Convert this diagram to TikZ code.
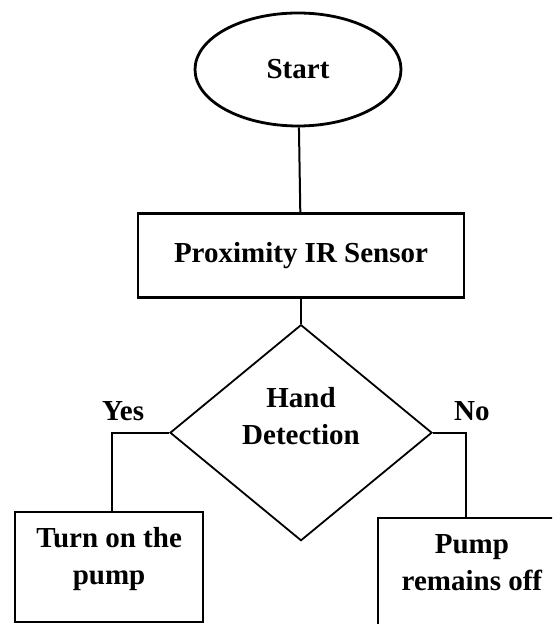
\documentclass[tikz,border=0pt]{standalone}
\usepackage{fontspec}
\setmainfont{Liberation Serif}
\usepackage{tikz}
\usetikzlibrary{shapes.geometric, positioning}
\tikzstyle{startstop} = [ellipse, minimum width=103pt, minimum height=56.5pt, text centered, draw=black, line width=1.4pt, inner sep=0pt]
\tikzstyle{process} = [rectangle, minimum width=163pt, minimum height=42pt, text centered, draw=black, line width=1.2pt]
\tikzstyle{decision} = [diamond, minimum width=131pt, minimum height=108pt, inner sep=0pt, text centered, draw=black, line width=0.9pt]
\tikzstyle{outcome} = [rectangle, minimum width=94pt, minimum height=55pt, text centered, draw=black, line width=1.2pt]
\tikzstyle{answer} = [inner sep=0pt]
\tikzstyle{line} = [line width=1pt]
% two lines of text, lifted inside their shape
\newcommand{\liftlines}[2]{\raisebox{#1}[\height][\depth]{\begin{tabular}{@{}c@{}}#2\end{tabular}}}

\begin{document}
\begin{tikzpicture}[node distance=12.5pt, font=\fontsize{14.5}{18.5}\selectfont\bfseries]
    \useasboundingbox (0,0) rectangle (276pt,-312pt);
    \clip (0,0) rectangle (276pt,-312pt);

    % Start and sensor
    \node (start) [startstop] at (149pt,-34.75pt) {Start};
    \node (sensor) [process, below=42.5pt of start, xshift=1.5pt] {Proximity IR Sensor};

    % Decision
    \node (detect) [decision, below=of sensor] {\liftlines{7pt}{Hand\\Detection}};
    \node (yes) [answer, above=6pt of detect.west, xshift=-23pt] {Yes};
    \node (no) [answer, above=6pt of detect.east, xshift=19.5pt] {No};

    % Outcomes
    \node (pumpon) [outcome, below=39pt of detect.west, xshift=-30pt] {\liftlines{4pt}{Turn on the\\pump}};
    \node (pumpoff) [outcome, below=42pt of detect.east, xshift=19.5pt] {\liftlines{4pt}{Pump\\remains off}};

    % Lines
    \draw [line] (start) -- (sensor);
    \draw [line] (sensor) -- (detect);
    \draw [line] (detect.west) -| ([xshift=1.3pt]pumpon.north);
    \draw [line] (detect.east) -| ([xshift=-3pt]pumpoff.north);

\end{tikzpicture}
\end{document}
